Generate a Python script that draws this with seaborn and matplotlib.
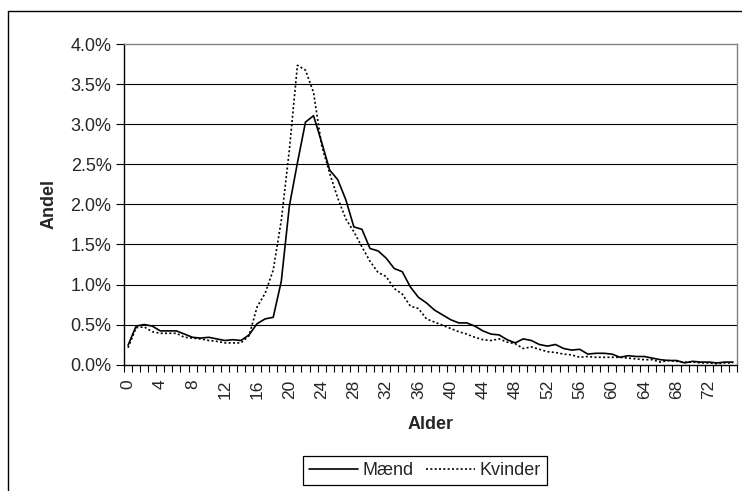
import numpy as np
import pandas as pd
import matplotlib
matplotlib.use('Agg')
import matplotlib.pyplot as plt
from matplotlib.lines import Line2D
from matplotlib.ticker import FuncFormatter, FixedLocator
import seaborn as sns

# Values (share of each age, in percent)
ages = list(range(0, 76))
maend = [0.24, 0.48, 0.50, 0.48, 0.42, 0.42, 0.42, 0.38, 0.34, 0.33,
         0.34, 0.32, 0.30, 0.31, 0.30, 0.37, 0.51, 0.57, 0.59, 1.04,
         1.98, 2.52, 3.03, 3.11, 2.78, 2.43, 2.31, 2.06, 1.72, 1.69,
         1.45, 1.42, 1.33, 1.20, 1.16, 0.97, 0.84, 0.77, 0.68, 0.62,
         0.56, 0.52, 0.52, 0.48, 0.42, 0.38, 0.37, 0.31, 0.27, 0.32,
         0.30, 0.25, 0.23, 0.25, 0.20, 0.18, 0.19, 0.13, 0.14, 0.14,
         0.13, 0.09, 0.11, 0.10, 0.10, 0.08, 0.06, 0.05, 0.05, 0.02,
         0.04, 0.03, 0.03, 0.02, 0.03, 0.03]
kvinder = [0.21, 0.46, 0.47, 0.41, 0.39, 0.39, 0.39, 0.34, 0.33, 0.32,
           0.30, 0.29, 0.27, 0.27, 0.27, 0.36, 0.72, 0.89, 1.18, 1.80,
           2.68, 3.74, 3.68, 3.40, 2.74, 2.39, 2.08, 1.82, 1.66, 1.47,
           1.29, 1.15, 1.10, 0.95, 0.88, 0.73, 0.70, 0.57, 0.53, 0.49,
           0.45, 0.41, 0.38, 0.34, 0.31, 0.30, 0.32, 0.28, 0.26, 0.20,
           0.22, 0.19, 0.16, 0.15, 0.13, 0.12, 0.09, 0.10, 0.09, 0.09,
           0.09, 0.09, 0.08, 0.07, 0.06, 0.06, 0.03, 0.05, 0.04, 0.03,
           0.03, 0.02, 0.02, 0.01, 0.02, 0.02]
series_names = ['Mænd', 'Kvinder']
y_ticks = [0.0, 0.5, 1.0, 1.5, 2.0, 2.5, 3.0, 3.5, 4.0]
x_labels = list(range(0, 73, 4))

df = pd.DataFrame({
    'Alder': ages * 2,
    'Andel': maend + kvinder,
    'Køn': [series_names[0]] * len(ages) + [series_names[1]] * len(ages),
})

sns.set_style('white')
plt.rcParams['font.family'] = ['Liberation Sans', 'DejaVu Sans']

fig = plt.figure(figsize=(7.42, 4.91), dpi=100)
ax = fig.add_axes([124 / 742, 1 - 364.5 / 491, 613 / 742, 320 / 491])

dot = (1.2, 1.4)
sns.lineplot(data=df, x='Alder', y='Andel', hue='Køn', style='Køn',
             palette=['black', 'black'],
             dashes={'Mænd': '', 'Kvinder': dot},
             linewidth=1.2, ax=ax, legend=False)

ax.set_xlim(-0.5, 75.5)
ax.set_ylim(0, 4.0)

# y axis
ax.set_yticks(y_ticks)
ax.yaxis.set_major_formatter(FuncFormatter(lambda v, p: f'{v:.1f}%'))
ax.tick_params(axis='y', direction='out', length=6, width=0.8,
               color='black', labelsize=13, left=True, pad=3)
for v in y_ticks[1:-1]:
    ax.axhline(v, color='black', lw=0.8, zorder=0)

# x axis: labels every 4 years, small ticks between categories
ax.set_xticks(x_labels)
ax.set_xticklabels([str(v) for v in x_labels], rotation=90)
ax.xaxis.set_minor_locator(FixedLocator(np.arange(-0.5, 76, 1)))
ax.tick_params(axis='x', which='major', length=0, labelsize=12.5, pad=11)
ax.tick_params(axis='x', which='minor', direction='out', length=5,
               width=0.8, color='black', bottom=True)

ax.set_xlabel('Alder', fontsize=13, fontweight='bold', labelpad=12)
ax.set_ylabel('Andel', fontsize=13, fontweight='bold', labelpad=9)

for side in ['left', 'bottom']:
    ax.spines[side].set_color('black')
    ax.spines[side].set_linewidth(1.0)
for side in ['top', 'right']:
    ax.spines[side].set_color('#808080')
    ax.spines[side].set_linewidth(1.0)

handles = [Line2D([], [], color='black', lw=1.2),
           Line2D([], [], color='black', lw=1.2, dashes=dot)]
leg = fig.legend(handles, series_names, loc='center',
                 bbox_to_anchor=(425 / 742, 1 - 470.5 / 491),
                 ncol=2, frameon=True, fancybox=False, framealpha=1,
                 edgecolor='black', fontsize=13, handlelength=2.7,
                 columnspacing=0.7, handletextpad=0.25, borderpad=0.35,
                 borderaxespad=0)
leg.get_frame().set_linewidth(0.9)

# chart area border (only top and left visible in the crop)
fig.add_artist(Line2D([8 / 742, 8 / 742], [0, 1 - 11 / 491],
                      transform=fig.transFigure, color='black', lw=1.0))
fig.add_artist(Line2D([8 / 742, 1], [1 - 11 / 491, 1 - 11 / 491],
                      transform=fig.transFigure, color='black', lw=1.0))

fig.savefig('out.png', dpi=100)
